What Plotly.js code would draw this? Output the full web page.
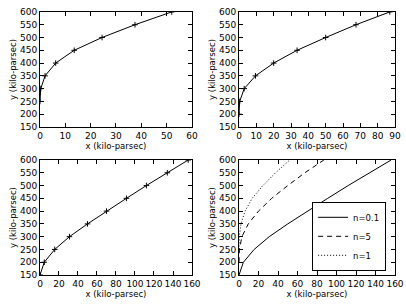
<!DOCTYPE html>
<html><head><meta charset="utf-8">
<script src="https://cdn.plot.ly/plotly-3.0.1.min.js"></script>
<style>body{margin:0;padding:0;background:#fff}#chart{width:406px;height:306px}</style>
</head><body><div id="chart"></div>
<script>
// n=1 (top-left, dotted in comparison)
const x_n1 = [0, 0.3, 2, 6.2, 13.5, 24.5, 37.5, 52];
const y_n1 = [250, 300, 350, 400, 450, 500, 550, 600];
// n=5 (top-right, dashed in comparison)
const x_n5 = [0, 0.4, 3, 9.5, 20, 33.5, 50, 67.5, 87];
const y_n5 = [200, 250, 300, 350, 400, 450, 500, 550, 600];
// n=0.1 (bottom-left, solid in comparison)
const x_n01 = [0, 4.5, 15.5, 31, 50, 70, 91, 112, 134, 156];
const y_n01 = [150, 200, 250, 300, 350, 400, 450, 500, 550, 600];
const legendNames = ['n=0.1', 'n=5', 'n=1'];
const xTitle = 'x (kilo-parsec)';
const yTitle = 'y (kilo-parsec)';

const font = {family: 'DejaVu Sans', size: 9, color: '#000'};
const tfont = {family: 'DejaVu Sans', size: 8.5, color: '#000'};
function ax(domain, range, dtick, anchor, isX) {
  return {
    domain: domain, range: range, dtick: dtick, tick0: 0, anchor: anchor,
    showgrid: false, zeroline: false, showline: true, linecolor: '#000', linewidth: 1,
    mirror: 'ticks', ticks: 'inside', ticklen: 4, tickcolor: '#000', tickwidth: 1,
    tickangle: 0, automargin: false,
    tickfont: font, title: {text: isX ? xTitle : yTitle, font: tfont, standoff: isX ? 2 : 2},
    fixedrange: true
  };
}
const mk = {symbol: 'cross-thin', size: 4, line: {color: '#000', width: 1}, color: '#000'};
const traces = [
  {x: x_n1, y: y_n1, xaxis: 'x', yaxis: 'y', mode: 'lines+markers', line: {color: '#000', width: 1}, marker: mk, showlegend: false},
  {x: x_n5, y: y_n5, xaxis: 'x2', yaxis: 'y2', mode: 'lines+markers', line: {color: '#000', width: 1}, marker: mk, showlegend: false},
  {x: x_n01, y: y_n01, xaxis: 'x3', yaxis: 'y3', mode: 'lines+markers', line: {color: '#000', width: 1}, marker: mk, showlegend: false},
  {x: x_n01, y: y_n01, xaxis: 'x4', yaxis: 'y4', mode: 'lines', line: {color: '#000', width: 1}, name: legendNames[0]},
  {x: x_n5, y: y_n5, xaxis: 'x4', yaxis: 'y4', mode: 'lines', line: {color: '#000', width: 1, dash: '5px,4px'}, name: legendNames[1]},
  {x: x_n1, y: y_n1, xaxis: 'x4', yaxis: 'y4', mode: 'lines', line: {color: '#000', width: 1, dash: '1px,2px'}, name: legendNames[2]}
];
const xl = [0.0985, 0.4729], xr = [0.5887, 0.9729];
const yt = [0.585, 0.961], yb = [0.1013, 0.4771];
const layout = {
  width: 406, height: 306, margin: {l: 0, r: 0, t: 0, b: 0},
  paper_bgcolor: '#fff', plot_bgcolor: '#fff', font: font,
  xaxis: ax(xl, [0, 60], 10, 'y', true),
  yaxis: ax(yt, [150, 600], 50, 'x', false),
  xaxis2: ax(xr, [0, 90], 10, 'y2', true),
  yaxis2: ax(yt, [150, 600], 50, 'x2', false),
  xaxis3: ax(xl, [0, 160], 20, 'y3', true),
  yaxis3: ax(yb, [150, 600], 50, 'x3', false),
  xaxis4: ax(xr, [0, 160], 20, 'y4', true),
  yaxis4: ax(yb, [150, 600], 50, 'x4', false),
  showlegend: true,
  legend: {x: 0.951, y: 0.115, xanchor: 'right', yanchor: 'bottom', bgcolor: '#fff',
    bordercolor: '#000', borderwidth: 1, font: {family: 'DejaVu Sans', size: 8.5, color: '#000'},
    tracegroupgap: 0, itemwidth: 30}
};
Plotly.newPlot('chart', traces, layout, {staticPlot: true, displayModeBar: false});
</script></body></html>
